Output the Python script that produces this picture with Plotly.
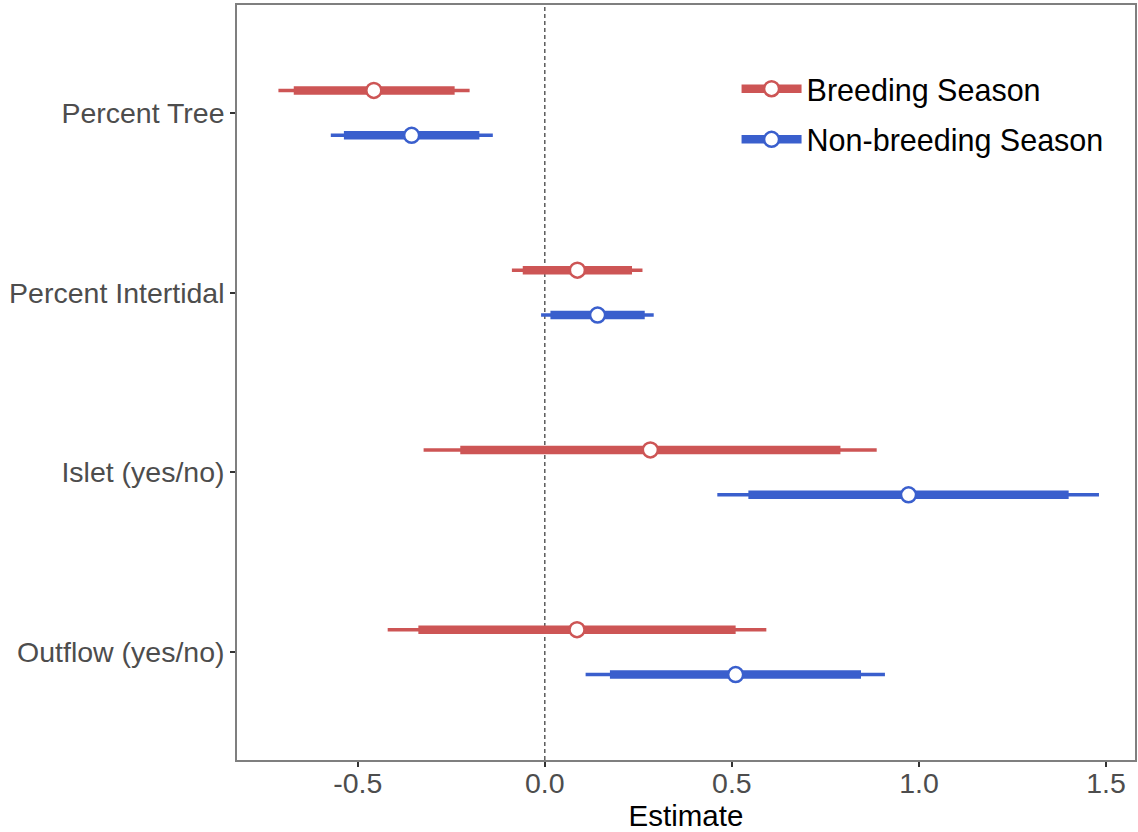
import plotly.graph_objects as go

categories = ["Percent Tree", "Percent Intertidal", "Islet (yes/no)", "Outflow (yes/no)"]
cat_pos = [4, 3, 2, 1]

series_names = ["Breeding Season", "Non-breeding Season"]
series_colors = ["#CD5555", "#3A5FCD"]
dodge = [0.125, -0.125]

breeding_est = [-0.457, 0.087, 0.282, 0.086]
breeding_lo95 = [-0.712, -0.088, -0.324, -0.420]
breeding_hi95 = [-0.201, 0.261, 0.887, 0.592]
breeding_lo50 = [-0.671, -0.059, -0.226, -0.338]
breeding_hi50 = [-0.241, 0.233, 0.790, 0.510]

nonbreeding_est = [-0.356, 0.141, 0.972, 0.510]
nonbreeding_lo95 = [-0.572, -0.010, 0.461, 0.109]
nonbreeding_hi95 = [-0.139, 0.291, 1.481, 0.909]
nonbreeding_lo50 = [-0.537, 0.015, 0.544, 0.174]
nonbreeding_hi50 = [-0.175, 0.267, 1.400, 0.845]

x_tickvals = [-0.5, 0.0, 0.5, 1.0, 1.5]
x_ticktext = ["-0.5", "0.0", "0.5", "1.0", "1.5"]

data = [
    (breeding_est, breeding_lo95, breeding_hi95, breeding_lo50, breeding_hi50),
    (nonbreeding_est, nonbreeding_lo95, nonbreeding_hi95, nonbreeding_lo50, nonbreeding_hi50),
]

def segs(lo, hi, ys):
    xs, yy = [], []
    for a, b, y in zip(lo, hi, ys):
        xs += [a, b, None]
        yy += [y, y, None]
    return xs, yy

fig = go.Figure()
for i, (est, lo95, hi95, lo50, hi50) in enumerate(data):
    col = series_colors[i]
    ys = [p + dodge[i] for p in cat_pos]
    x1, y1 = segs(lo95, hi95, ys)
    fig.add_trace(go.Scatter(x=x1, y=y1, mode="lines", line=dict(color=col, width=3.5),
                             showlegend=False, hoverinfo="skip"))
    x2, y2 = segs(lo50, hi50, ys)
    fig.add_trace(go.Scatter(x=x2, y=y2, mode="lines", line=dict(color=col, width=8.5),
                             showlegend=False, hoverinfo="skip"))
    fig.add_trace(go.Scatter(x=est, y=ys, mode="markers",
                             marker=dict(symbol="circle", size=15, color="white",
                                         line=dict(color=col, width=2.5)),
                             showlegend=False))
    # legend entry
    fig.add_trace(go.Scatter(x=[None], y=[None], mode="lines+markers", name=series_names[i],
                             legendgroup=series_names[i],
                             line=dict(color=col, width=8.5),
                             marker=dict(symbol="circle", size=15, color="white",
                                         line=dict(color=col, width=2.5))))

fig.add_shape(type="line", xref="x", yref="paper", x0=0, x1=0, y0=0, y1=1,
              line=dict(color="#333333", width=1.2, dash="4px,3px"), layer="below")

fig.update_layout(
    width=1138, height=832,
    margin=dict(l=237, r=1, t=5, b=72),
    paper_bgcolor="white", plot_bgcolor="white",
    font=dict(family="Liberation Sans, Arial, sans-serif", color="#000000"),
    legend=dict(x=0.5563, y=0.924, xanchor="left", yanchor="top",
                font=dict(size=30.5, color="#000000"), bgcolor="rgba(0,0,0,0)",
                traceorder="grouped", tracegroupgap=8, itemwidth=60),
)
fig.update_xaxes(range=[-0.8227, 1.5773], tickvals=x_tickvals, ticktext=x_ticktext,
                 showgrid=False, zeroline=False, showline=True, mirror=True,
                 linecolor="#7F7F7F", linewidth=1.5, ticks="outside", ticklen=5,
                 tickcolor="#333333", tickwidth=1.5, ticklabelstandoff=-8,
                 tickfont=dict(size=28.5, color="#4D4D4D"),
                 title=dict(text="Estimate", font=dict(size=29.5, color="#000000"), standoff=8))
fig.update_yaxes(range=[0.4, 4.6], tickvals=cat_pos, ticktext=categories,
                 showgrid=False, zeroline=False, showline=True, mirror=True,
                 linecolor="#7F7F7F", linewidth=1.5, ticks="outside", ticklen=5,
                 tickcolor="#333333", tickwidth=1.5, ticklabelstandoff=0,
                 tickfont=dict(size=28.5, color="#4D4D4D"))

fig.write_html("out.html")
